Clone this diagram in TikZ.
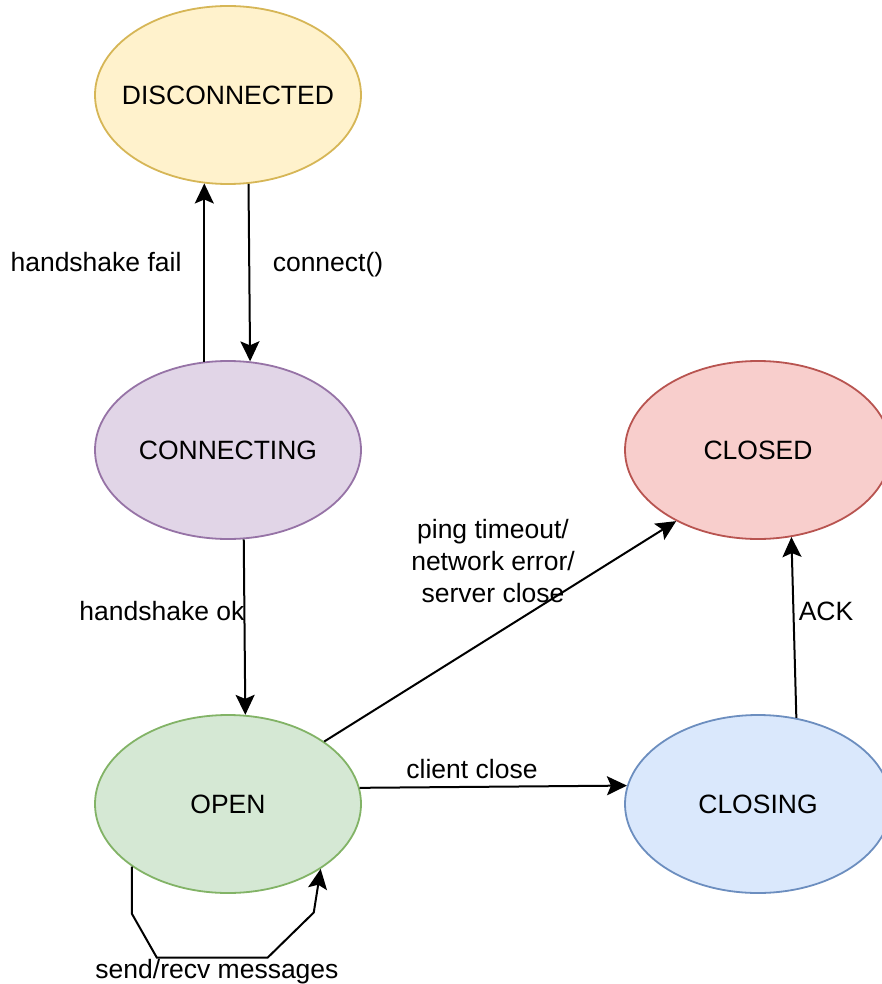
\documentclass[tikz,border=0pt]{standalone}
\usepackage{fontspec}
\setmainfont{Liberation Sans}
\usetikzlibrary{arrows.meta,shapes.geometric}
\definecolor{yfill}{HTML}{FFF2CC}\definecolor{ydraw}{HTML}{D6B656}
\definecolor{pfill}{HTML}{E1D5E7}\definecolor{pdraw}{HTML}{9673A6}
\definecolor{rfill}{HTML}{F8CECC}\definecolor{rdraw}{HTML}{B85450}
\definecolor{gfill}{HTML}{D5E8D4}\definecolor{gdraw}{HTML}{82B366}
\definecolor{bfill}{HTML}{DAE8FC}\definecolor{bdraw}{HTML}{6C8EBF}
\tikzset{
  state/.style={ellipse, minimum width=266pt, minimum height=178pt, inner xsep=-30pt, inner ysep=0pt, line width=1.8pt, font=\fontsize{26.5}{32}\selectfont},
  edge/.style={line width=2pt, -{Stealth[length=20pt,width=19pt,inset=4pt]}},
  lbl/.style={anchor=base, inner sep=0pt, font=\fontsize{26.5}{32}\selectfont}
}
\begin{document}
\begin{tikzpicture}[x=1pt,y=1pt]
\useasboundingbox (0,0) rectangle (882,-984);
\node[state, fill=yfill, draw=ydraw] (disc) at (228,-95) {DISCONNECTED};
\node[state, fill=pfill, draw=pdraw] (conn) at (228,-450) {CONNECTING};
\node[state, fill=rfill, draw=rdraw] (closed) at (758,-450) {CLOSED};
\node[state, fill=gfill, draw=gdraw] (open) at (228,-804) {OPEN};
\node[state, fill=bfill, draw=bdraw] (closing) at (758,-804) {CLOSING};

\draw[edge] (conn.105.9) -- (disc.255.5);
\draw[edge] (disc.283.3) -- (conn.76.6);
\draw[edge] (conn.280.2) -- (open.79.1);
\draw[edge] (open.33.4) -- (closed.221.9);
\draw[edge] (open.7) -- (closing.172.3);
\draw[edge] (closing.66.6) -- (closed.291.7);
\draw[edge] (open.213.8) -- ++(0,-47) -- ++(25,-44) -- ++(111,0) -- ++(46,45) -- (open.325.1);

\node[lbl] (l1) at (96,-271) {handshake fail};
\node[lbl] (l2) at (328,-271) {connect()};
\node[lbl] (l3) at (162,-620) {handshake ok};
\node[lbl] (l4a) at (493,-538) {ping timeout/};
\node[lbl] (l4b) at (493,-570) {network error/};
\node[lbl] (l4c) at (493,-602) {server close};
\node[lbl] (l5) at (472,-778) {client close};
\node[lbl] (l6) at (826,-620) {ACK};
\node[lbl] (l7) at (217,-978) {send/recv messages};
\end{tikzpicture}
\end{document}
